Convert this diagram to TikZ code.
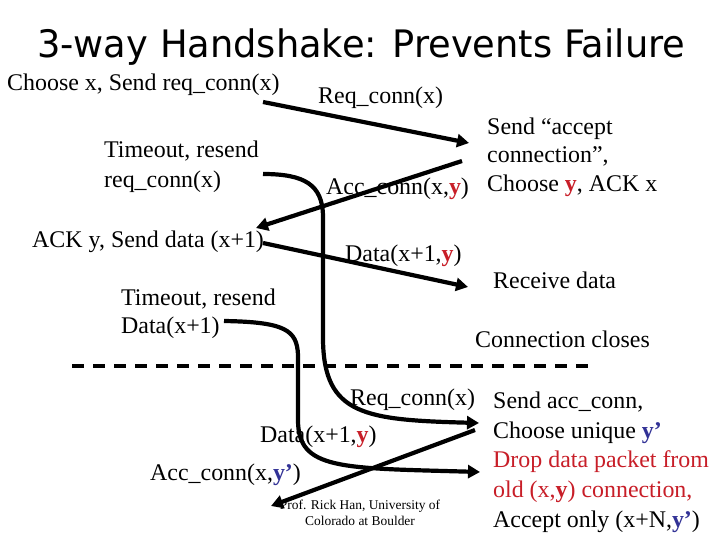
\documentclass[tikz,border=0pt]{standalone}
\usepackage{fontspec}
\usepackage{graphicx}
\setmainfont{Liberation Serif}
\newfontfamily\titlefont{DejaVu Sans}
\usetikzlibrary{arrows.meta}
\definecolor{ared}{RGB}{200,30,40}
\definecolor{ablue}{RGB}{50,50,150}
\newcommand\redy{\textcolor{ared}{\textbf{y}}}
\newcommand\bluey{\textcolor{ablue}{\textbf{y’}}}
\begin{document}
\begin{tikzpicture}[x=1bp,y=-1bp,
  lbl/.style={anchor=base west,inner sep=0pt,font=\fontsize{24}{28}\selectfont},
  redlbl/.style={lbl,text=ared},
  credit/.style={anchor=base,inner sep=0pt,font=\fontsize{13.5}{16}\selectfont},
  msg/.style={line width=4.2bp,-{Triangle[length=12bp,width=13bp]}},
  sepline/.style={line width=4.5bp,dash pattern=on 12bp off 9bp}]
\useasboundingbox[fill=white] (0,0) rectangle (720,540);

\node[anchor=base west,inner sep=0pt] (title) at (37,58)
  {\resizebox{648bp}{\height}{\titlefont\fontsize{38}{40}\selectfont 3-way Handshake: Prevents Failure}};

\node[lbl] (t1) at (7,91) {Choose x, Send req\_conn(x)};
\node[lbl] (t2) at (318,104) {Req\_conn(x)};
\node[lbl] (t3a) at (487,135) {Send “accept};
\node[lbl] (t3b) at (487,163) {connection”,};
\node[lbl] (t3c) at (487,192) {Choose \redy, ACK x};
\node[lbl] (t4a) at (104,158) {Timeout, resend};
\node[lbl] (t4b) at (104,188) {req\_conn(x)};
\node[lbl] (t5) at (326,195) {Acc\_conn(x,\redy)};
\node[lbl] (t6) at (32,248) {ACK y, Send data (x+1)};
\node[lbl] (t7) at (345,262) {Data(x+1,\redy)};
\node[lbl] (t8) at (493,288) {Receive data};
\node[lbl] (t9a) at (121,305) {Timeout, resend};
\node[lbl] (t9b) at (121,333) {Data(x+1)};
\node[lbl] (t10) at (475,347) {Connection closes};
\node[lbl] (t11) at (350,405) {Req\_conn(x)};
\node[lbl] (t12a) at (493,408) {Send acc\_conn,};
\node[lbl] (t12b) at (493,438) {Choose unique \bluey};
\node[redlbl] (t12c) at (493,467) {Drop data packet from};
\node[redlbl] (t12d) at (493,497) {old (x,\textbf{y}) connection,};
\node[lbl] (t12e) at (493,527) {Accept only (x+N,\bluey)};
\node[lbl] (t13) at (260,442) {Data(x+1,\redy)};
\node[lbl] (t14) at (150,480) {Acc\_conn(x,\bluey)};
\node[credit] (c1) at (360,509) {Prof. Rick Han, University of};
\node[credit] (c2) at (360,525) {Colorado at Boulder};

\coordinate (a1s) at (263,102);
\coordinate (a1e) at (469,143);
\coordinate (a2s) at (462,161);
\coordinate (a2e) at (256,228);
\coordinate (a3s) at (263,243);
\coordinate (a3e) at (468,287);
\coordinate (a4s) at (263,174);
\coordinate (a4e) at (479,423);
\coordinate (a5s) at (224,321);
\coordinate (a5e) at (480,472);
\coordinate (a6s) at (475,430);
\coordinate (a6e) at (271,506);
\coordinate (dl) at (72,366);
\coordinate (dr) at (590,366);

\draw[msg] (a1s) -- (a1e);
\draw[msg] (a2s) -- (a2e);
\draw[msg] (a3s) -- (a3e);
\draw[msg] (a4s) .. controls (305,174) and (322,185) .. (323,215) -- (323,340)
  .. controls (324,415) and (365,420) .. (a4e);
\draw[msg] (a5s) .. controls (285,322) and (297,330) .. (298,355) -- (298,420)
  .. controls (298,470) and (340,468) .. (a5e);
\draw[msg] (a6s) -- (a6e);
\draw[sepline] (dl) -- (dr);
\end{tikzpicture}
\end{document}
